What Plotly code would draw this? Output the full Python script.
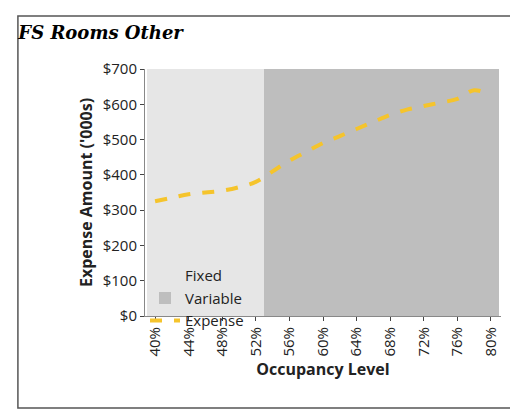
import plotly.graph_objects as go

occupancy = list(range(40, 81, 2))
expense = [325, 335, 345, 350, 355, 365, 380, 410, 440, 465, 490, 510,
           530, 550, 570, 585, 595, 605, 615, 640, 625]
fixed_x = [x for x in occupancy if x <= 52]
variable_x = [x for x in occupancy if x > 52]
y_max = 700
tick_vals = list(range(40, 81, 4))
tick_text = [f"{v}%" for v in tick_vals]

fig = go.Figure()
fig.add_trace(go.Bar(x=fixed_x, y=[y_max] * len(fixed_x), width=2,
                     marker=dict(color="#e6e6e6", line=dict(width=0)), name="Fixed"))
fig.add_trace(go.Bar(x=variable_x, y=[y_max] * len(variable_x), width=2,
                     marker=dict(color="#bebebe", line=dict(width=0)), name="Variable"))
fig.add_trace(go.Scatter(x=occupancy, y=expense, mode="lines", name="Expense",
                         line=dict(color="#f5c42c", width=4, dash="dash", shape="spline")))

fig.update_layout(
    width=518, height=409,
    margin=dict(l=137, r=25, t=61, b=101, autoexpand=False),
    paper_bgcolor="white", plot_bgcolor="white",
    font=dict(family="Open Sans", size=15, color="#222"),
    bargap=0, barmode="overlay",
    title=dict(text="<b><i>FS Rooms Other</i></b>", x=0.02, y=0.955, xanchor="left",
               yanchor="top", font=dict(family="DejaVu Serif", size=18, color="black")),
    legend=dict(orientation="h", x=0.0, y=0.23, xanchor="left", yanchor="top",
                bgcolor="rgba(0,0,0,0)", entrywidth=165, entrywidthmode="pixels",
                tracegroupgap=0, font=dict(size=15, color="#222")),
    shapes=[dict(type="rect", xref="paper", yref="paper", x0=-0.357, x1=1.039,
                 y0=-0.372, y1=1.215, line=dict(color="#555", width=1.5))],
)
fig.update_xaxes(range=[38.8, 81.2], tickvals=tick_vals, ticktext=tick_text,
                 tickangle=-90, ticks="outside", ticklen=4, showgrid=False,
                 showline=True, linecolor="#888", tickfont=dict(size=15),
                 title=dict(text="<b>Occupancy Level</b>", font=dict(size=16), standoff=8))
fig.update_yaxes(range=[0, 700], dtick=100, tickprefix="$", ticks="outside", ticklen=4,
                 showgrid=False, showline=True, linecolor="#888", tickfont=dict(size=15),
                 title=dict(text="<b>Expense Amount ('000s)</b>", font=dict(size=16), standoff=6))

fig.write_html("out.html")
